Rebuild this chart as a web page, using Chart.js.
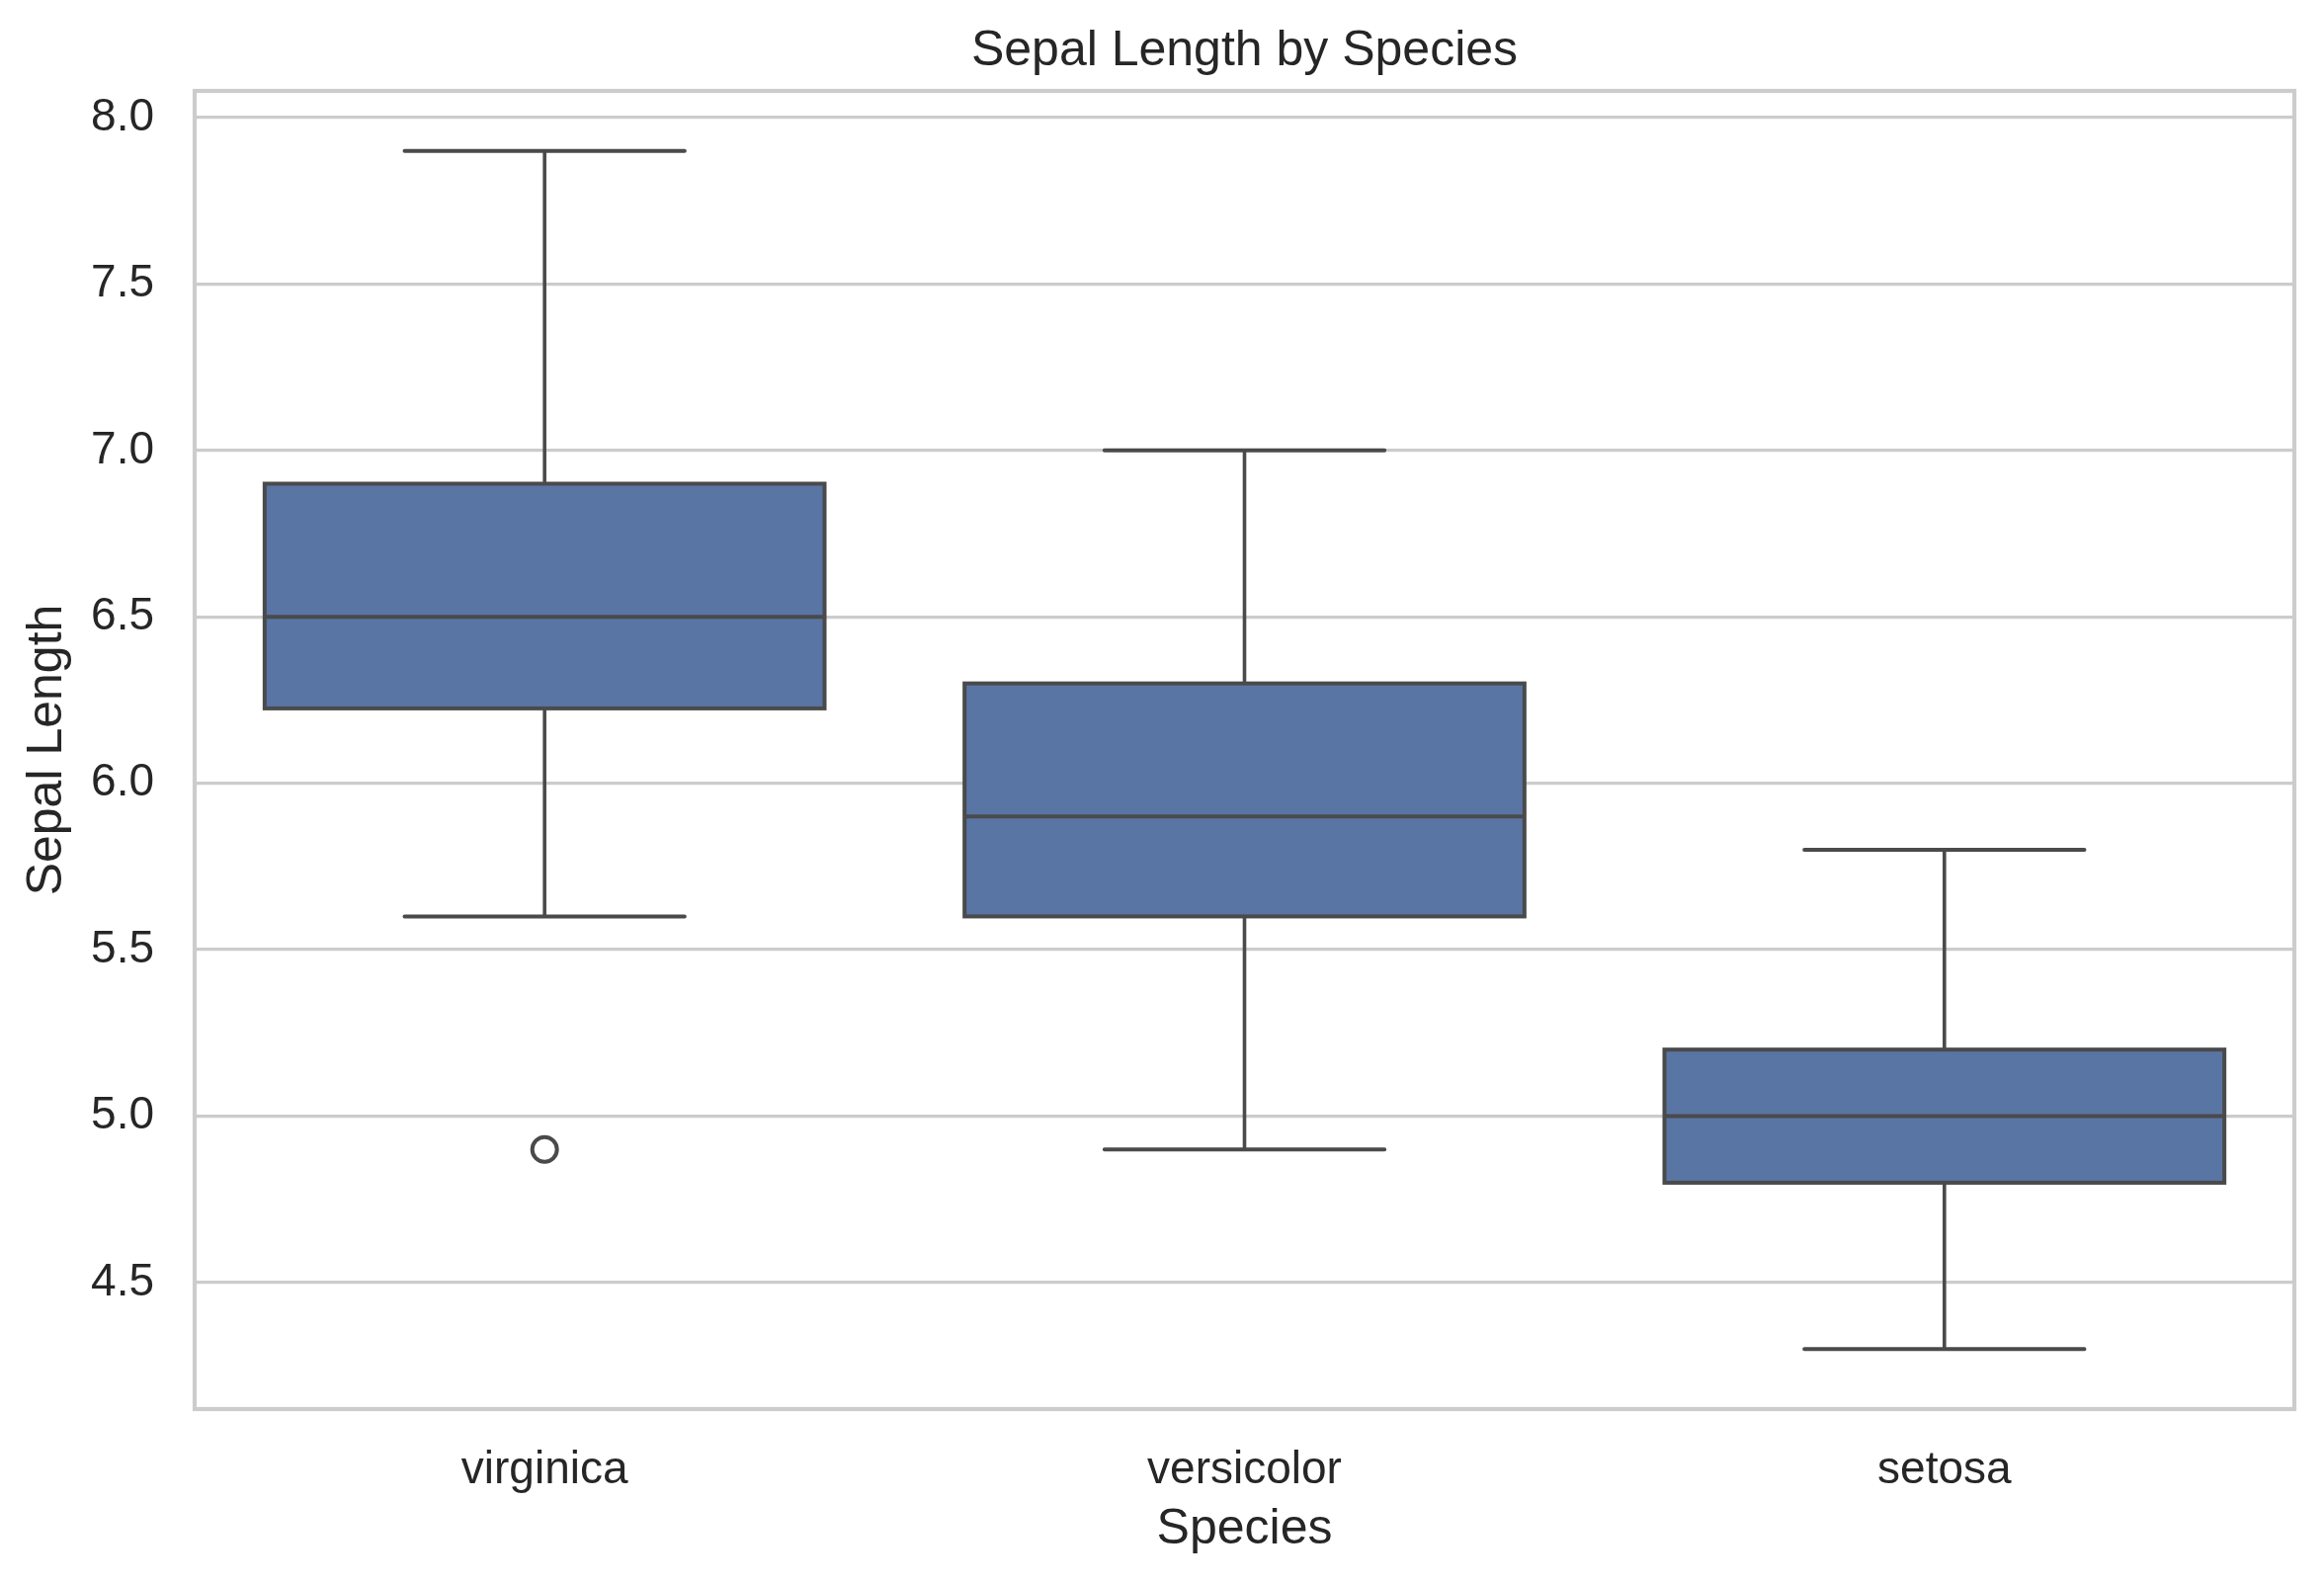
<!DOCTYPE html>
<html>
<head>
<meta charset="utf-8">
<script src="https://cdn.jsdelivr.net/npm/chart.js@4.4.1/dist/chart.umd.min.js"></script>
<style>
  html, body { margin: 0; padding: 0; background: #ffffff; }
  #wrap { width: 2352px; height: 1602px; position: relative; }
</style>
</head>
<body>
<div id="wrap"><canvas id="chart"></canvas></div>
<script>
// Box statistics per species
const species = ['virginica', 'versicolor', 'setosa'];
const whiskerLow = [5.6, 4.9, 4.3];
const q1 = [6.225, 5.6, 4.8];
const medians = [6.5, 5.9, 5.0];
const q3 = [6.9, 6.3, 5.2];
const whiskerHigh = [7.9, 7.0, 5.8];

// Points beyond the whiskers
const outlierSpecies = ['virginica'];
const outlierValues = [4.9];

// Y axis
const yTicks = [4.5, 5.0, 5.5, 6.0, 6.5, 7.0, 7.5, 8.0];
const yMin = 4.12;
const yMax = 8.08;

const LINE = '#4a4a4a';
const TEXT = '#262626';
const GRID = '#cccccc';
const FONT = "'Liberation Sans', Arial, sans-serif";

// whiskers, caps, box outline, median and the axes frame
const boxLines = {
    id: 'boxLines',
    afterDatasetsDraw(chart) {
        const ctx = chart.ctx;
        const y = chart.scales.y;
        const meta = chart.getDatasetMeta(0);
        const area = chart.chartArea;

        ctx.save();
        ctx.strokeStyle = GRID;
        ctx.lineWidth = 4.2;
        ctx.strokeRect(area.left, area.top, area.right - area.left, area.bottom - area.top);

        ctx.strokeStyle = LINE;
        meta.data.forEach((bar, i) => {
            const cx = bar.x;
            const half = bar.width / 2;
            const pLow = y.getPixelForValue(whiskerLow[i]);
            const pQ1 = y.getPixelForValue(q1[i]);
            const pMed = y.getPixelForValue(medians[i]);
            const pQ3 = y.getPixelForValue(q3[i]);
            const pHigh = y.getPixelForValue(whiskerHigh[i]);

            // whiskers
            ctx.lineWidth = 3.6;
            ctx.lineCap = 'butt';
            ctx.beginPath();
            ctx.moveTo(cx, pQ3);
            ctx.lineTo(cx, pHigh);
            ctx.moveTo(cx, pQ1);
            ctx.lineTo(cx, pLow);
            ctx.stroke();

            // caps
            ctx.lineWidth = 4;
            ctx.lineCap = 'round';
            ctx.beginPath();
            ctx.moveTo(cx - half / 2, pHigh);
            ctx.lineTo(cx + half / 2, pHigh);
            ctx.moveTo(cx - half / 2, pLow);
            ctx.lineTo(cx + half / 2, pLow);
            ctx.stroke();

            // box outline
            ctx.lineCap = 'butt';
            ctx.lineJoin = 'miter';
            ctx.lineWidth = 4;
            ctx.strokeRect(cx - half, pQ3, half * 2, pQ1 - pQ3);

            // median
            ctx.beginPath();
            ctx.moveTo(cx - half, pMed);
            ctx.lineTo(cx + half, pMed);
            ctx.stroke();
        });
        ctx.restore();
    }
};

new Chart(document.getElementById('chart'), {
    data: {
        labels: species,
        datasets: [
            {
                type: 'bar',
                label: 'box',
                data: species.map((s, i) => [q1[i], q3[i]]),
                backgroundColor: '#5975a4',
                borderWidth: 0,
                barPercentage: 0.8,
                categoryPercentage: 1.0,
                order: 2
            },
            {
                type: 'line',
                label: 'outliers',
                data: outlierSpecies.map((s, i) => ({ x: s, y: outlierValues[i] })),
                showLine: false,
                pointStyle: 'circle',
                pointRadius: 12.5,
                pointBorderWidth: 4,
                pointBackgroundColor: 'rgba(0,0,0,0)',
                pointBorderColor: LINE,
                order: 1
            }
        ]
    },
    options: {
        responsive: true,
        maintainAspectRatio: false,
        devicePixelRatio: 1,
        animation: false,
        layout: { padding: { left: 0, right: 30, top: 0, bottom: 0 } },
        plugins: {
            legend: { display: false },
            tooltip: { enabled: false },
            title: {
                display: true,
                fullSize: false,
                text: 'Sepal Length by Species',
                color: TEXT,
                font: { family: FONT, size: 50, weight: 'normal', lineHeight: 1.2 },
                padding: { top: 22, bottom: 10 }
            }
        },
        scales: {
            x: {
                type: 'category',
                offset: true,
                grid: { display: false, drawTicks: false },
                border: { display: false },
                ticks: {
                    color: TEXT,
                    font: { family: FONT, size: 46, lineHeight: 1.2 },
                    padding: 35,
                    maxRotation: 0
                },
                title: {
                    display: true,
                    text: 'Species',
                    color: TEXT,
                    font: { family: FONT, size: 50, lineHeight: 1.2 },
                    padding: { top: 0, bottom: 24 }
                },
                afterFit: s => { s.height = 176; }
            },
            y: {
                type: 'linear',
                min: yMin,
                max: yMax,
                afterBuildTicks: s => { s.ticks = yTicks.map(v => ({ value: v })); },
                grid: { color: GRID, lineWidth: 3.3, drawTicks: false },
                border: { display: false },
                ticks: {
                    color: TEXT,
                    font: { family: FONT, size: 46, lineHeight: 1.2 },
                    padding: 41,
                    callback: v => Number(v).toFixed(1)
                },
                title: {
                    display: true,
                    text: 'Sepal Length',
                    color: TEXT,
                    font: { family: FONT, size: 50, lineHeight: 1.2 },
                    padding: { top: 18, bottom: 0 }
                },
                afterFit: s => { s.width = 197; }
            }
        }
    },
    plugins: [boxLines]
});
</script>
</body>
</html>
